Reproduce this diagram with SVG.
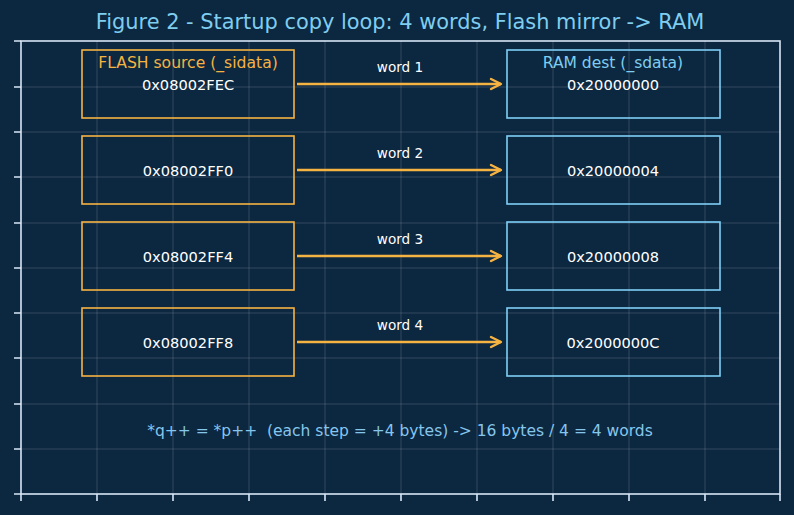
<svg xmlns="http://www.w3.org/2000/svg" width="794" height="515" viewBox="0 0 794 515">
<defs>
<style>
text{font-family:"DejaVu Sans","Liberation Sans",sans-serif;text-anchor:middle;dominant-baseline:central}
.grid{stroke:#ffffff;stroke-opacity:0.2;stroke-width:0.8}
.spine{stroke:#d6e6f5;stroke-width:1.6;fill:none}
.tick{stroke:#d6e6f5;stroke-width:1.6}
.src{fill:none;stroke:#f5b342;stroke-width:1.6}
.dst{fill:none;stroke:#7fd0f7;stroke-width:1.6}
.addr{fill:#ffffff;font-size:14.6px}
.wl{fill:#ffffff;font-size:13.6px}
.arrow{stroke:#f5b342;stroke-width:2.4;fill:none}
</style>
<marker id="ah" markerWidth="14" markerHeight="14" refX="12" refY="7" orient="auto" markerUnits="userSpaceOnUse">
<path d="M2,2 L12,7 L2,12" fill="none" stroke="#f5b342" stroke-width="2.4" stroke-linecap="round" stroke-linejoin="round"/>
</marker>
</defs>
<rect width="794" height="515" fill="#0c2740"/>
<text x="400" y="22" font-size="20.9" fill="#7fcdef">Figure 2 - Startup copy loop: 4 words, Flash mirror -&gt; RAM</text>
<g id="grid">
<path class="grid" d="M97,41V494M173,41V494M249,41V494M325,41V494M401,41V494M477,41V494M553,41V494M629,41V494M705,41V494M21,87H780M21,132H780M21,177H780M21,223H780M21,268H780M21,313H780M21,358H780M21,404H780M21,449H780"/>
</g>
<g id="axes">
<rect class="spine" x="21" y="41" width="759" height="453"/>
<path class="tick" d="M21,494v7M97,494v7M173,494v7M249,494v7M325,494v7M401,494v7M477,494v7M553,494v7M629,494v7M705,494v7M780,494v7M21,41h-7M21,87h-7M21,132h-7M21,177h-7M21,223h-7M21,268h-7M21,313h-7M21,358h-7M21,404h-7M21,449h-7M21,494h-7"/>
</g>
<g id="src1"><rect class="src" x="82" y="50" width="212" height="68"/><text x="188" y="63" font-size="15.6" fill="#f5b342">FLASH source (_sidata)</text><text class="addr" x="188" y="84">0x08002FEC</text></g>
<g id="src2"><rect class="src" x="82" y="136" width="212" height="68"/><text class="addr" x="188" y="170">0x08002FF0</text></g>
<g id="src3"><rect class="src" x="82" y="222" width="212" height="68"/><text class="addr" x="188" y="256">0x08002FF4</text></g>
<g id="src4"><rect class="src" x="82" y="308" width="212" height="68"/><text class="addr" x="188" y="342">0x08002FF8</text></g>
<g id="dst1"><rect class="dst" x="507" y="50" width="213" height="68"/><text x="613" y="63" font-size="15.5" fill="#7fcdef">RAM dest (_sdata)</text><text class="addr" x="613" y="84">0x20000000</text></g>
<g id="dst2"><rect class="dst" x="507" y="136" width="213" height="68"/><text class="addr" x="613" y="170">0x20000004</text></g>
<g id="dst3"><rect class="dst" x="507" y="222" width="213" height="68"/><text class="addr" x="613" y="256">0x20000008</text></g>
<g id="dst4"><rect class="dst" x="507" y="308" width="213" height="68"/><text class="addr" x="613" y="342">0x2000000C</text></g>
<g id="connectors">
<path class="arrow" d="M297,84H501" marker-end="url(#ah)"/>
<path class="arrow" d="M297,170H501" marker-end="url(#ah)"/>
<path class="arrow" d="M297,256H501" marker-end="url(#ah)"/>
<path class="arrow" d="M297,342H501" marker-end="url(#ah)"/>
<text class="wl" x="400" y="67">word 1</text>
<text class="wl" x="400" y="153">word 2</text>
<text class="wl" x="400" y="239">word 3</text>
<text class="wl" x="400" y="325">word 4</text>
</g>
<text x="400" y="431" font-size="15.5" fill="#85c6ec" style="white-space:pre">*q++ = *p++  (each step = +4 bytes) -&gt; 16 bytes / 4 = 4 words</text>
</svg>
